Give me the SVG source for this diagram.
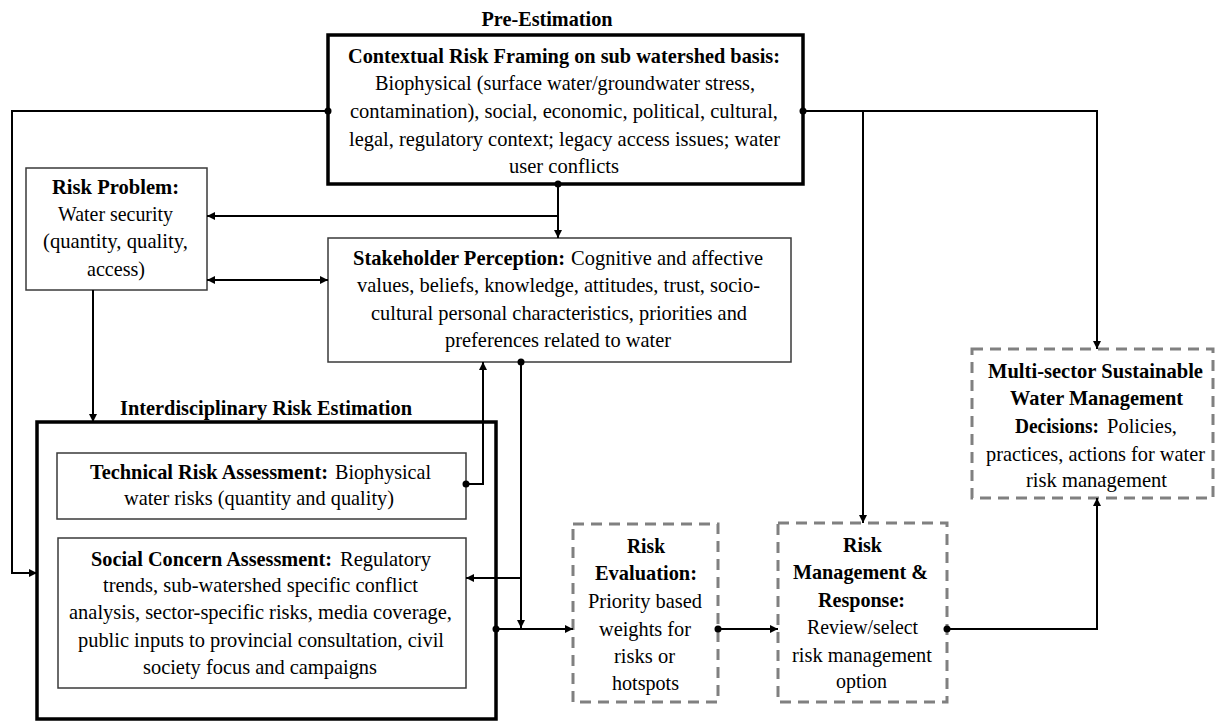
<svg xmlns="http://www.w3.org/2000/svg" width="1217" height="721" viewBox="0 0 1217 721">
  <style>
    text { font-family: "Liberation Serif", Tinos, "Times New Roman", "DejaVu Serif", serif; font-size: 21px; font-weight: normal; fill: #000; }
    .b { font-weight: bold; }
    .c { text-anchor: middle; }
    .thick { fill: #fff; stroke: #000; stroke-width: 3.5; }
    .thin { fill: #fff; stroke: #3a3a3a; stroke-width: 1.5; }
    .dash { fill: #fff; stroke: #808080; stroke-width: 3; stroke-dasharray: 11 7; }
    .wire { fill: none; stroke: #000; stroke-width: 2; }
    .end { marker-end: url(#arrow); }
    .dot { fill: #000; }
  </style>
  <defs>
    <marker id="arrow" viewBox="0 0 10 10" refX="10" refY="5" markerWidth="9" markerHeight="8" markerUnits="userSpaceOnUse" orient="auto-start-reverse">
      <path d="M0,0 L10,5 L0,10 z" fill="#000"/>
    </marker>
  </defs>

  <rect width="1217" height="721" fill="#fff"/>

  <!-- section headings -->
  <text class="b c" x="547" y="26" textLength="131" lengthAdjust="spacingAndGlyphs">Pre-Estimation</text>
  <text class="b c" x="266" y="415" textLength="292" lengthAdjust="spacingAndGlyphs">Interdisciplinary Risk Estimation</text>

  <!-- contextual framing -->
  <g id="context">
    <rect class="thick" x="328" y="35" width="475" height="149"/>
    <text class="b c" x="564" y="63" textLength="432" lengthAdjust="spacingAndGlyphs">Contextual Risk Framing on sub watershed basis:</text>
    <text class="c" x="565" y="90" textLength="380" lengthAdjust="spacingAndGlyphs">Biophysical (surface water/groundwater stress,</text>
    <text class="c" x="564" y="118" textLength="428" lengthAdjust="spacingAndGlyphs">contamination), social, economic, political, cultural,</text>
    <text class="c" x="564.5" y="146" textLength="431" lengthAdjust="spacingAndGlyphs">legal, regulatory context; legacy access  issues; water</text>
    <text class="c" x="564" y="173" textLength="110" lengthAdjust="spacingAndGlyphs">user conflicts</text>
  </g>

  <!-- risk problem -->
  <g id="risk-problem">
    <rect class="thin" x="26" y="168" width="181" height="122"/>
    <text class="b c" x="115.5" y="194" textLength="127" lengthAdjust="spacingAndGlyphs">Risk Problem:</text>
    <text class="c" x="115.5" y="221" textLength="115" lengthAdjust="spacingAndGlyphs">Water security</text>
    <text class="c" x="115.5" y="248" textLength="145" lengthAdjust="spacingAndGlyphs">(quantity, quality,</text>
    <text class="c" x="116" y="276" textLength="58" lengthAdjust="spacingAndGlyphs">access)</text>
  </g>

  <!-- stakeholder perception -->
  <g id="stakeholder">
    <rect class="thin" x="328" y="238" width="463" height="124"/>
    <text class="b" x="353" y="265" textLength="212" lengthAdjust="spacingAndGlyphs">Stakeholder Perception:</text>
    <text x="571" y="265" textLength="192" lengthAdjust="spacingAndGlyphs">Cognitive and affective</text>
    <text class="c" x="558.5" y="292" textLength="403" lengthAdjust="spacingAndGlyphs">values, beliefs, knowledge, attitudes, trust, socio-</text>
    <text class="c" x="559" y="320" textLength="376" lengthAdjust="spacingAndGlyphs">cultural personal characteristics, priorities and</text>
    <text class="c" x="558" y="347" textLength="226" lengthAdjust="spacingAndGlyphs">preferences related to water</text>
  </g>

  <!-- interdisciplinary estimation frame -->
  <g id="estimation">
    <rect class="thick" x="37" y="422" width="459" height="297"/>
  </g>

  <g id="technical">
    <rect class="thin" x="57" y="453" width="409" height="66"/>
    <text class="b" x="90" y="479" textLength="238" lengthAdjust="spacingAndGlyphs">Technical Risk Assessment:</text>
    <text x="335" y="479" textLength="96" lengthAdjust="spacingAndGlyphs">Biophysical</text>
    <text class="c" x="259" y="505" textLength="270" lengthAdjust="spacingAndGlyphs">water risks (quantity and quality)</text>
  </g>

  <g id="social">
    <rect class="thin" x="58" y="538" width="408" height="150"/>
    <text class="b" x="91" y="566" textLength="241" lengthAdjust="spacingAndGlyphs">Social Concern Assessment:</text>
    <text x="340" y="566" textLength="91" lengthAdjust="spacingAndGlyphs">Regulatory</text>
    <text class="c" x="260.5" y="592" textLength="315" lengthAdjust="spacingAndGlyphs">trends, sub-watershed specific conflict</text>
    <text class="c" x="260.5" y="619" textLength="383" lengthAdjust="spacingAndGlyphs">analysis, sector-specific risks, media coverage,</text>
    <text class="c" x="261" y="647" textLength="366" lengthAdjust="spacingAndGlyphs">public inputs to provincial consultation, civil</text>
    <text class="c" x="260" y="674" textLength="234" lengthAdjust="spacingAndGlyphs">society focus and campaigns</text>
  </g>

  <!-- evaluation -->
  <g id="evaluation">
    <rect class="dash" x="573" y="524" width="145" height="178"/>
    <text class="b c" x="646" y="553" textLength="38" lengthAdjust="spacingAndGlyphs">Risk</text>
    <text class="b c" x="646" y="580" textLength="102" lengthAdjust="spacingAndGlyphs">Evaluation:</text>
    <text class="c" x="645" y="608" textLength="114" lengthAdjust="spacingAndGlyphs">Priority based</text>
    <text class="c" x="645" y="636" textLength="92" lengthAdjust="spacingAndGlyphs">weights for</text>
    <text class="c" x="644.5" y="663" textLength="61" lengthAdjust="spacingAndGlyphs">risks or</text>
    <text class="c" x="645.5" y="690" textLength="67" lengthAdjust="spacingAndGlyphs">hotspots</text>
  </g>

  <!-- management and response -->
  <g id="management">
    <rect class="dash" x="778" y="523" width="169" height="179"/>
    <text class="b c" x="862.5" y="552" textLength="39" lengthAdjust="spacingAndGlyphs">Risk</text>
    <text class="b c" x="860.5" y="579" textLength="135" lengthAdjust="spacingAndGlyphs">Management &amp;</text>
    <text class="b c" x="861.5" y="607" textLength="87" lengthAdjust="spacingAndGlyphs">Response:</text>
    <text class="c" x="862.5" y="634" textLength="111" lengthAdjust="spacingAndGlyphs">Review/select</text>
    <text class="c" x="862" y="662" textLength="140" lengthAdjust="spacingAndGlyphs">risk management</text>
    <text class="c" x="861.5" y="688" textLength="51" lengthAdjust="spacingAndGlyphs">option</text>
  </g>

  <!-- decisions -->
  <g id="decisions">
    <rect class="dash" x="972" y="349" width="241" height="149"/>
    <text class="b c" x="1095.5" y="378" textLength="215" lengthAdjust="spacingAndGlyphs">Multi-sector Sustainable</text>
    <text class="b c" x="1096.5" y="405" textLength="173" lengthAdjust="spacingAndGlyphs">Water Management</text>
    <text class="b" x="1015" y="433" textLength="84" lengthAdjust="spacingAndGlyphs">Decisions:</text>
    <text x="1107" y="433" textLength="70" lengthAdjust="spacingAndGlyphs">Policies,</text>
    <text class="c" x="1095.5" y="461" textLength="219" lengthAdjust="spacingAndGlyphs">practices, actions for water</text>
    <text class="c" x="1096.5" y="487" textLength="141" lengthAdjust="spacingAndGlyphs">risk management</text>
  </g>

  <!-- connectors, drawn over the boxes so dots and arrow tips sit on the edges -->
  <g id="connectors">
    <path class="wire end" d="M328,111 H12 V573 H37"/>
    <path class="wire end" d="M803,111 H1097 V349"/>
    <path class="wire end" d="M863,111 V523"/>
    <path class="wire end" d="M558,184 V238"/>
    <path class="wire end" d="M558,216 H207"/>
    <path class="wire end" d="M207,280 H328" marker-start="url(#arrow)"/>
    <path class="wire end" d="M93,290 V422"/>
    <path class="wire end" d="M466,484 H483 V362"/>
    <path class="wire end" d="M521,362 V628"/>
    <path class="wire end" d="M521,578 H466"/>
    <path class="wire end" d="M496,629 H573"/>
    <path class="wire end" d="M718,629 H778"/>
    <path class="wire end" d="M947,629 H1097 V498"/>
    <circle class="dot" cx="328" cy="111" r="3.5"/>
    <circle class="dot" cx="803" cy="111" r="3.5"/>
    <circle class="dot" cx="558" cy="184" r="3.5"/>
    <circle class="dot" cx="466" cy="484" r="3.5"/>
    <circle class="dot" cx="521" cy="362" r="3.5"/>
    <circle class="dot" cx="496" cy="629" r="3.5"/>
    <circle class="dot" cx="718" cy="629" r="3.5"/>
    <circle class="dot" cx="947" cy="629" r="3.5"/>
  </g>
</svg>
